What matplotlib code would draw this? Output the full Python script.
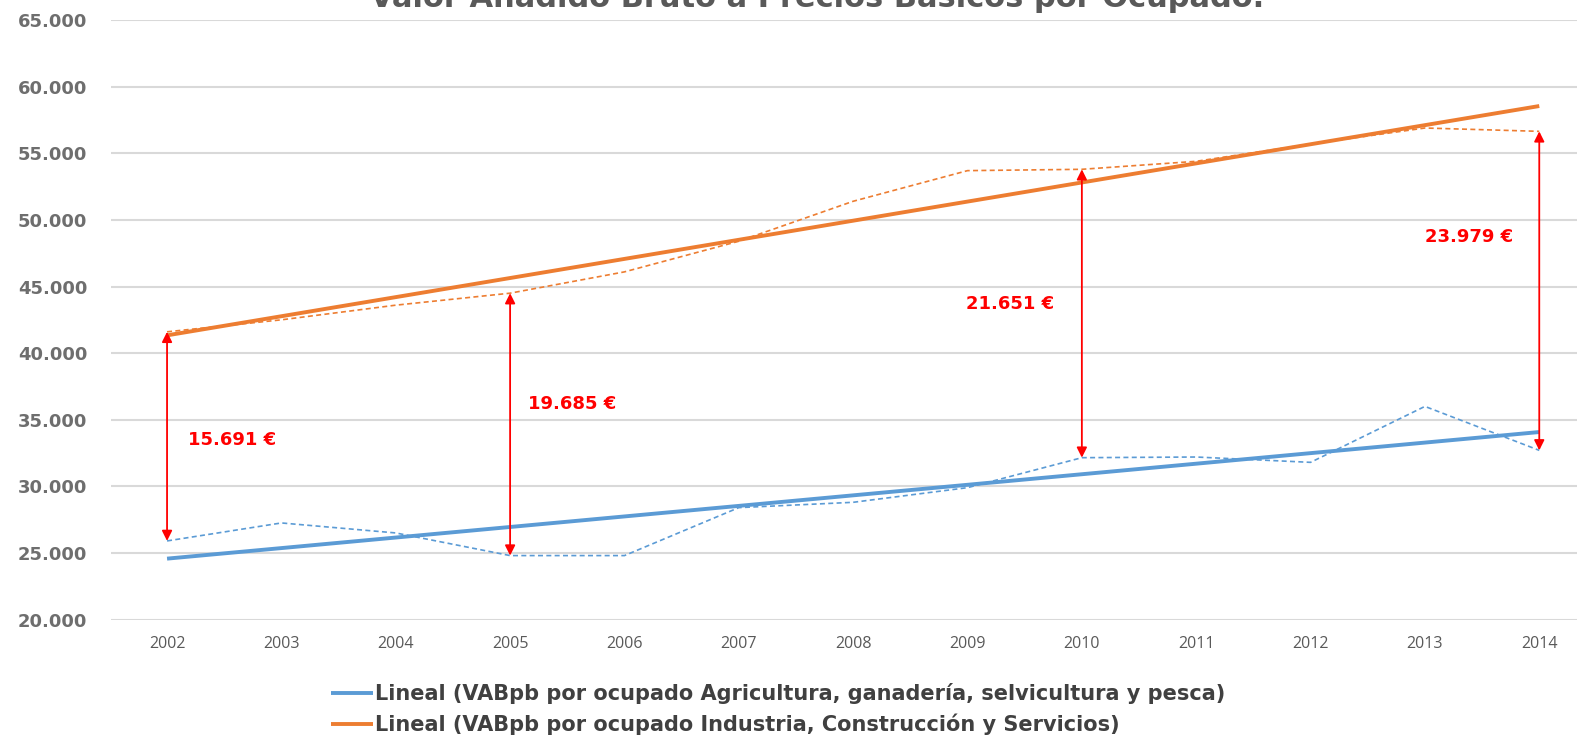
import numpy as np
import matplotlib
matplotlib.use('Agg')
import matplotlib.pyplot as plt

# Data
years = [2002, 2003, 2004, 2005, 2006, 2007, 2008, 2009, 2010, 2011, 2012, 2013, 2014]
agri = [25900, 27250, 26500, 24800, 24800, 28400, 28800, 29900, 32150, 32200, 31800, 36000, 32700]
indus = [41600, 42500, 43600, 44500, 46100, 48400, 51400, 53700, 53800, 54400, 55700, 56900, 56650]

gap_years = [2002, 2005, 2010, 2014]
gap_labels = ['15.691 €', '19.685 €', '21.651 €', '23.979 €']
label_pos = [(2002.18, 33500), (2005.16, 36200), (2008.99, 43700), (2013.0, 48700)]

y_ticks = [20000, 25000, 30000, 35000, 40000, 45000, 50000, 55000, 60000, 65000]
y_ticklabels = ['20.000', '25.000', '30.000', '35.000', '40.000', '45.000',
                '50.000', '55.000', '60.000', '65.000']

legend_labels = ['Lineal (VABpb por ocupado Agricultura, ganadería, selvicultura y pesca)',
                 'Lineal (VABpb por ocupado Industria, Construcción y Servicios)']

blue = '#5B9BD5'
orange = '#ED7D31'
grey = '#595959'

plt.rcParams['font.family'] = ['DejaVu Sans']

fig = plt.figure(figsize=(15.77, 7.37), dpi=100)
ax = fig.add_axes([0.0704, 0.1594, 0.9296, 0.8133])

x = np.array(years)

# thin dashed series
ax.plot(x, agri, color=blue, lw=1.2, dashes=(3, 2), zorder=3)
ax.plot(x, indus, color=orange, lw=1.2, dashes=(3, 2), zorder=3)

# linear trend lines (like Excel "Lineal")
ca = np.polyfit(x, agri, 1)
ci = np.polyfit(x, indus, 1)
l1, = ax.plot(x, np.polyval(ca, x), color=blue, lw=2.8, zorder=4, solid_capstyle='butt')
l2, = ax.plot(x, np.polyval(ci, x), color=orange, lw=2.8, zorder=4, solid_capstyle='butt')

# red gap arrows
for yr, lab, (tx, ty) in zip(gap_years, gap_labels, label_pos):
    i = years.index(yr)
    ax.annotate('', xy=(yr, indus[i]), xytext=(yr, agri[i]),
                arrowprops=dict(arrowstyle='<|-|>', color='#FF0000', lw=1.3,
                                mutation_scale=15, shrinkA=0, shrinkB=0),
                zorder=5)
    ax.text(tx, ty, lab, color='#FF0000', fontsize=13, fontweight='bold',
            ha='left', va='center', zorder=6)

ax.set_xlim(2001.51, 2014.33)
ax.set_ylim(20000, 65000)
ax.set_xticks(years)
ax.set_xticklabels([str(y) for y in years], fontsize=11.5, color=grey,
                   family='Open Sans')
ax.set_yticks(y_ticks)
ax.set_yticklabels(y_ticklabels, fontsize=13, color='#6E6E6E', fontweight='bold')
ax.tick_params(length=0, axis='y', pad=17)
ax.tick_params(length=0, axis='x', pad=12)
ax.grid(axis='y', color='#D9D9D9', lw=1.5)
ax.set_axisbelow(True)
for s in ax.spines.values():
    s.set_visible(False)

# title, cut off at the top edge as in the original
fig.text(0.518, 1 - 7 / 737, 'Valor Añadido Bruto a Precios Básicos por Ocupado.',
         ha='center', va='baseline', fontsize=22, fontweight='bold', color=grey)

fig.legend([l1, l2], legend_labels, loc='upper left', bbox_to_anchor=(0.21, 0.073),
           frameon=False, handlelength=2.0, handletextpad=0.1, labelspacing=0.45,
           prop=dict(family='DejaVu Sans', weight='bold', size=15),
           labelcolor='#404040', borderaxespad=0, borderpad=0)

fig.savefig('out.png', dpi=100)
